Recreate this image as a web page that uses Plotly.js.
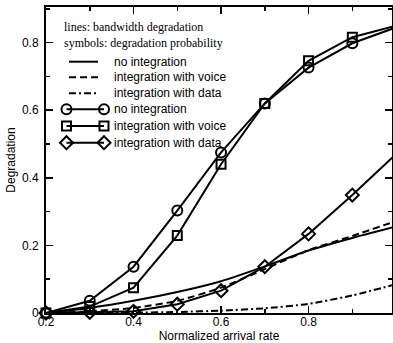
<!DOCTYPE html>
<html>
<head>
<meta charset="utf-8">
<script src="https://cdn.plot.ly/plotly-3.0.1.min.js"></script>
<style>html,body{margin:0;padding:0;background:#fff;}#chart{width:393px;height:343px;}</style>
</head>
<body>
<div id="chart"></div>
<script>
// ---- data ----
var arrivalRate = [0.2, 0.3, 0.4, 0.5, 0.6, 0.7, 0.8, 0.9, 1.0];
var bwNoIntegration    = [0, 0.015, 0.036, 0.062, 0.094, 0.138, 0.185, 0.222, 0.256];
var bwIntegrationVoice = [0, 0.005, 0.015, 0.036, 0.075, 0.130, 0.186, 0.228, 0.272];
var bwIntegrationData  = [0, 0.000, 0.001, 0.003, 0.007, 0.014, 0.027, 0.052, 0.085];
var probNoIntegration    = [0, 0.036, 0.137, 0.303, 0.475, 0.620, 0.726, 0.798, 0.845];
var probIntegrationVoice = [0, 0.019, 0.075, 0.229, 0.440, 0.620, 0.746, 0.816, 0.850];
var probIntegrationData  = [0, 0.002, 0.005, 0.026, 0.066, 0.137, 0.234, 0.349, 0.470];
var legendHeaders = ["lines: bandwidth degradation", "symbols: degradation probability"];
var legendLabels = ["no integration", "integration with voice", "integration with data",
                    "no integration", "integration with voice", "integration with data"];
var xTitle = "Normalized arrival rate";
var yTitle = "Degradation";

// ---- geometry helpers (plot area in px) ----
var L = 46, T = 7, W = 346, H = 306;
function px(xp){ return (xp - L) / W; }
function py(yp){ return (T + H - yp) / H; }

var sans = "Liberation Sans, Arial, sans-serif";
var serif = "Liberation Serif, Times New Roman, serif";

var lineStyles = [
  {width: 2, color: "#000", dash: "solid"},
  {width: 2, color: "#000", dash: "7px,4px"},
  {width: 2, color: "#000", dash: "7px,3px,2px,3px"}
];
var markerSyms = ["circle-open", "square-open", "diamond-open"];
var markerSizes = [10, 9, 10];

var traces = [];
var bwSeries = [bwNoIntegration, bwIntegrationVoice, bwIntegrationData];
bwSeries.forEach(function(s, i){
  traces.push({x: arrivalRate, y: s, type: "scatter", mode: "lines",
    line: Object.assign({shape: "spline", smoothing: 0.6}, lineStyles[i]), showlegend: false, hoverinfo: "skip"});
});
var probSeries = [probNoIntegration, probIntegrationVoice, probIntegrationData];
probSeries.forEach(function(s, i){
  traces.push({x: arrivalRate, y: s, type: "scatter", mode: "lines+markers", cliponaxis: false,
    line: {width: 2, color: "#000"},
    marker: {symbol: markerSyms[i], size: markerSizes[i], color: "#000", line: {width: 2, color: "#000"}},
    showlegend: false, hoverinfo: "skip"});
});

// ---- hand-drawn legend on overlay axes (paper-like fractions) ----
var rowY = [61.7, 77.3, 93.3, 109.3, 126, 142.7];
for (var i = 0; i < 3; i++) {
  traces.push({x: [px(69), px(98)], y: [py(rowY[i]), py(rowY[i])], xaxis: "x2", yaxis: "y2",
    type: "scatter", mode: "lines", line: lineStyles[i], showlegend: false, hoverinfo: "skip"});
}
for (var j = 0; j < 3; j++) {
  traces.push({x: [px(66.5), px(104)], y: [py(rowY[3 + j]), py(rowY[3 + j])], xaxis: "x2", yaxis: "y2",
    type: "scatter", mode: "lines+markers", cliponaxis: false, line: {width: 2, color: "#000"},
    marker: {symbol: markerSyms[j], size: markerSizes[j], color: "#000", line: {width: 2, color: "#000"}},
    showlegend: false, hoverinfo: "skip"});
}

var annotations = [];
var headerY = [27.3, 43.3];
legendHeaders.forEach(function(t, i){
  annotations.push({xref: "paper", yref: "paper", x: px(62), y: py(headerY[i]), xanchor: "left", yanchor: "middle",
    text: t, showarrow: false, font: {family: serif, size: 12, color: "#000"}});
});
legendLabels.forEach(function(t, i){
  annotations.push({xref: "paper", yref: "paper", x: px(112), y: py(rowY[i]), xanchor: "left", yanchor: "middle",
    text: t, showarrow: false, font: {family: sans, size: 12, color: "#000"}});
});

var axisCommon = {
  showline: true, linewidth: 2, linecolor: "#000", mirror: "allticks",
  ticks: "inside", ticklen: 7, tickwidth: 1.5, tickcolor: "#000",
  showgrid: false, zeroline: false,
  minor: {ticks: "inside", ticklen: 4, tickwidth: 1.5, tickcolor: "#000", dtick: 0.1, showgrid: false},
  tickfont: {family: sans, size: 12, color: "#000"}
};

var layout = {
  width: 393, height: 343,
  margin: {l: L, r: 393 - L - W, t: T, b: 343 - T - H, pad: 0},
  paper_bgcolor: "#fff", plot_bgcolor: "#fff",
  showlegend: false,
  xaxis: Object.assign({}, axisCommon, {range: [0.2, 0.2 + W / 437.6], tick0: 0.2, dtick: 0.2,
    ticklabelstandoff: -3,
    minor: Object.assign({}, axisCommon.minor, {tick0: 0.2}),
    title: {text: xTitle, font: {family: sans, size: 12, color: "#000"}, standoff: 6}}),
  yaxis: Object.assign({}, axisCommon, {range: [0, H / 338], tick0: 0, dtick: 0.2,
    ticklabelstandoff: 3,
    title: {text: yTitle, font: {family: sans, size: 12, color: "#000"}, standoff: 4}}),
  xaxis2: {overlaying: "x", range: [0, 1], visible: false, fixedrange: true},
  yaxis2: {overlaying: "y", range: [0, 1], visible: false, fixedrange: true},
  annotations: annotations
};

Plotly.newPlot("chart", traces, layout, {displayModeBar: false, staticPlot: true});
</script>
</body>
</html>
